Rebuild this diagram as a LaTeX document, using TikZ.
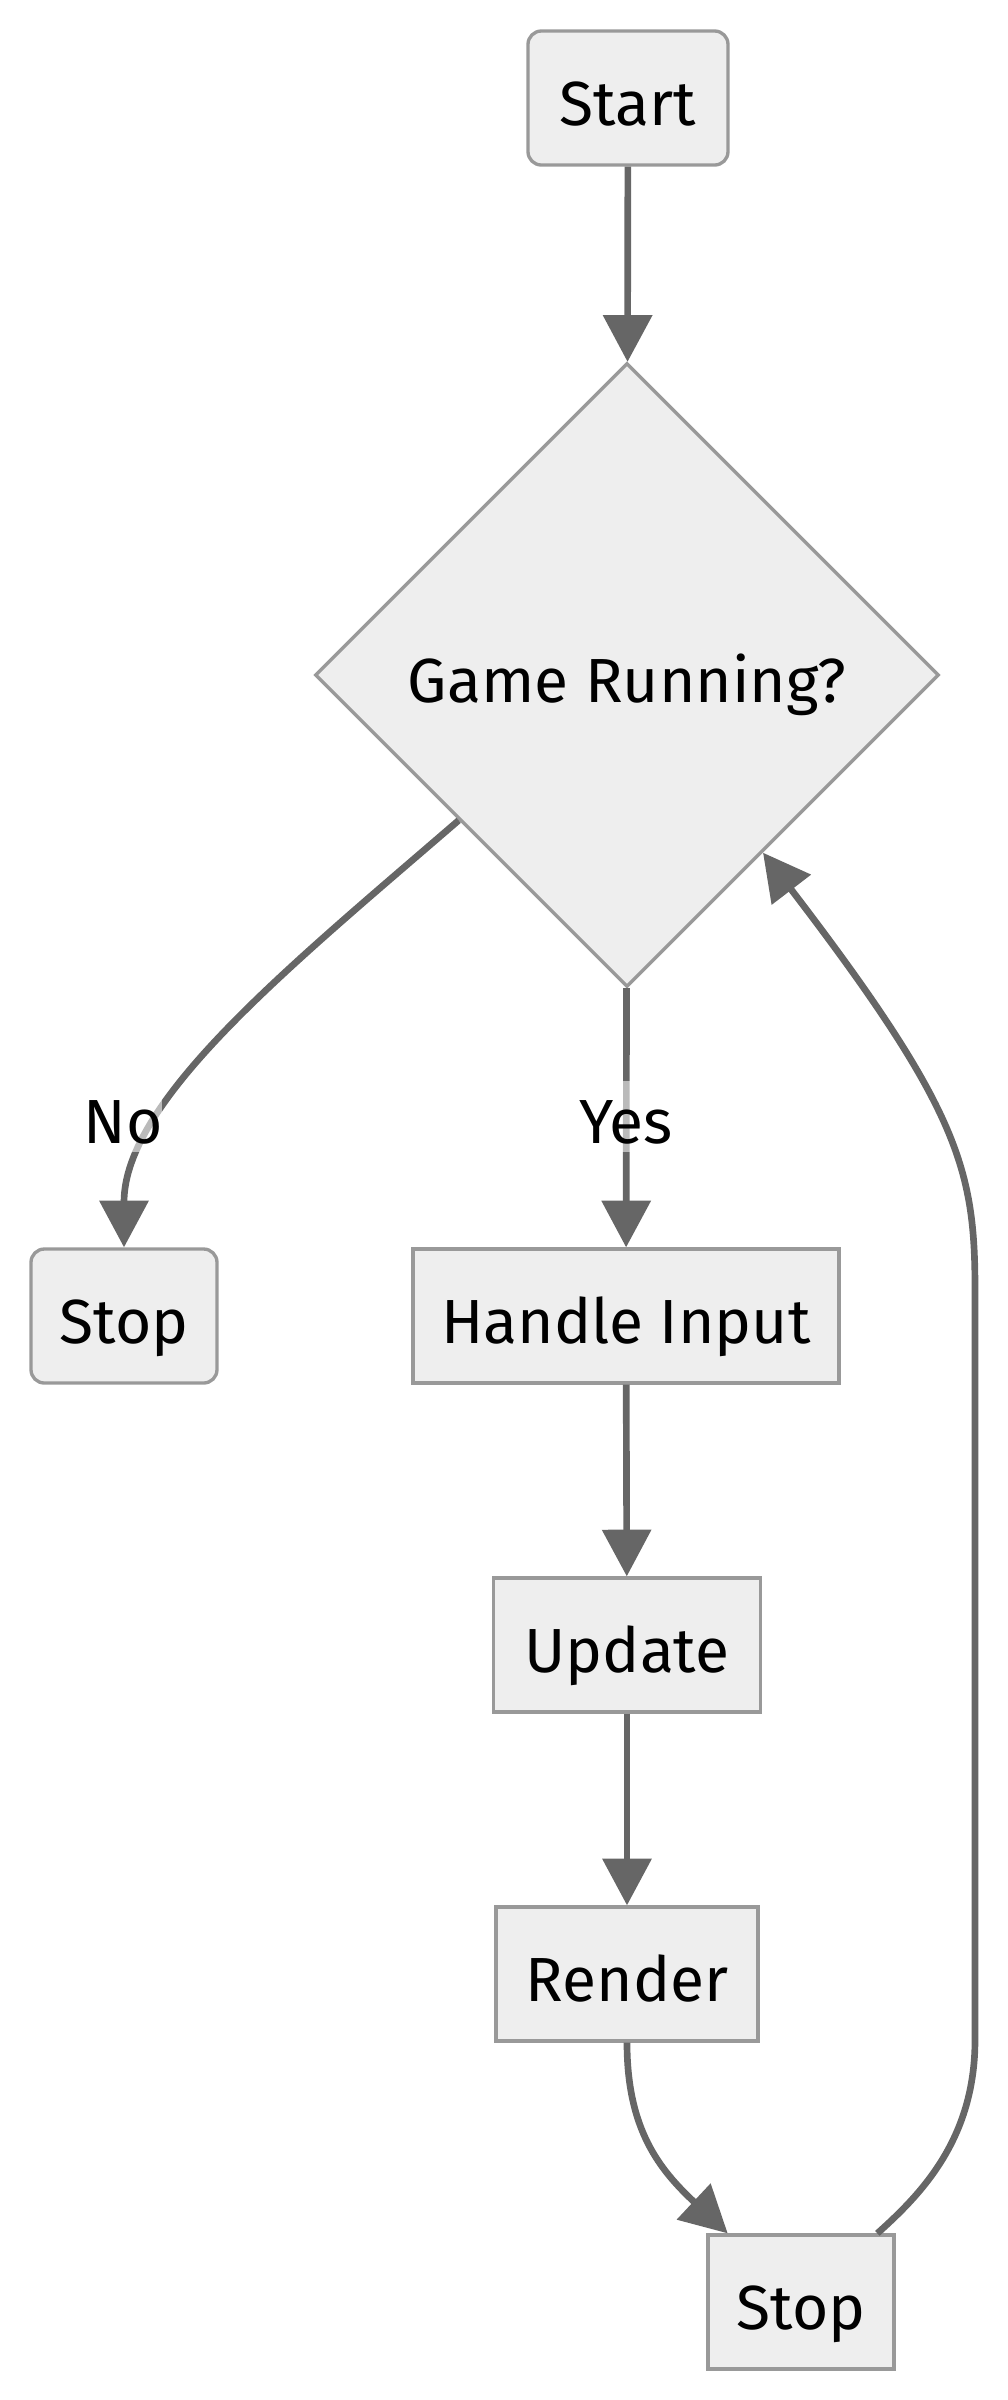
\documentclass[tikz,border=0pt]{standalone}
\usepackage{fontspec}
\setmainfont{Fira Sans}
\usetikzlibrary{shapes.geometric,arrows.meta}
\definecolor{boxfill}{HTML}{EEEEEE}
\definecolor{boxline}{HTML}{999999}
\definecolor{edgeline}{HTML}{666666}

\begin{document}
\begin{tikzpicture}
  [x=0.3pt, y=-0.3pt]
  \tikzstyle{txt} = [font=\fontsize{18.7pt}{22pt}\selectfont, text height=16.2pt, text depth=0pt];
  \tikzstyle{box} = [txt, draw=boxline, fill=boxfill, line width=1pt, minimum height=40.2pt, inner sep=0pt];
  \tikzstyle{round_box} = [box, rounded corners=4pt];
  \tikzstyle{choice} = [txt, diamond, aspect=1, draw=boxline, fill=boxfill, line width=1pt, minimum width=187.2pt, minimum height=187.2pt, inner sep=0pt];
  \tikzstyle{edge} = [draw=edgeline, line width=2pt, -{Triangle[length=14pt, width=14.4pt]}];
  \tikzstyle{edge_label} = [txt, fill=white, fill opacity=0.55, text opacity=1, inner xsep=0pt, inner ysep=0pt, minimum height=21.3pt];

  \useasboundingbox (0, 0) rectangle (1008, 2400);

  \node[round_box, minimum width=60pt] (start) at (628, 98) {Start};
  \node[choice] (run) at (627, 675) {Game Running?};

  \node[round_box, minimum width=55.8pt] (stop1) at (124, 1316) {Stop};
  \node[box, minimum width=127.8pt] (input) at (626, 1316) {Handle Input};
  \node[box, minimum width=80.1pt] (update) at (627, 1645) {Update};
  \node[box, minimum width=78.6pt] (render) at (627, 1974) {Render};
  \node[box, minimum width=55.8pt] (stop2) at (801, 2302) {Stop};

  \draw[edge] (start) -- (run);
  \draw[edge] (run) .. controls (290, 966) and (124, 1100) .. (stop1);
  \draw[edge] (run) -- (input);
  \draw[edge] (input) -- (update);
  \draw[edge] (update) -- (render);
  \draw[edge] (render) .. controls (627, 2130) and (660, 2170) .. (stop2);
  \draw[edge] (stop2) .. controls (920, 2195) and (975, 2140) .. (975, 2040)
    -- (975, 1290) .. controls (975, 1170) and (960, 1110) .. (run);

  \node[edge_label] (no) at (123, 1116) {No};
  \node[edge_label] (yes) at (626, 1116) {Yes};

\end{tikzpicture}
\end{document}
